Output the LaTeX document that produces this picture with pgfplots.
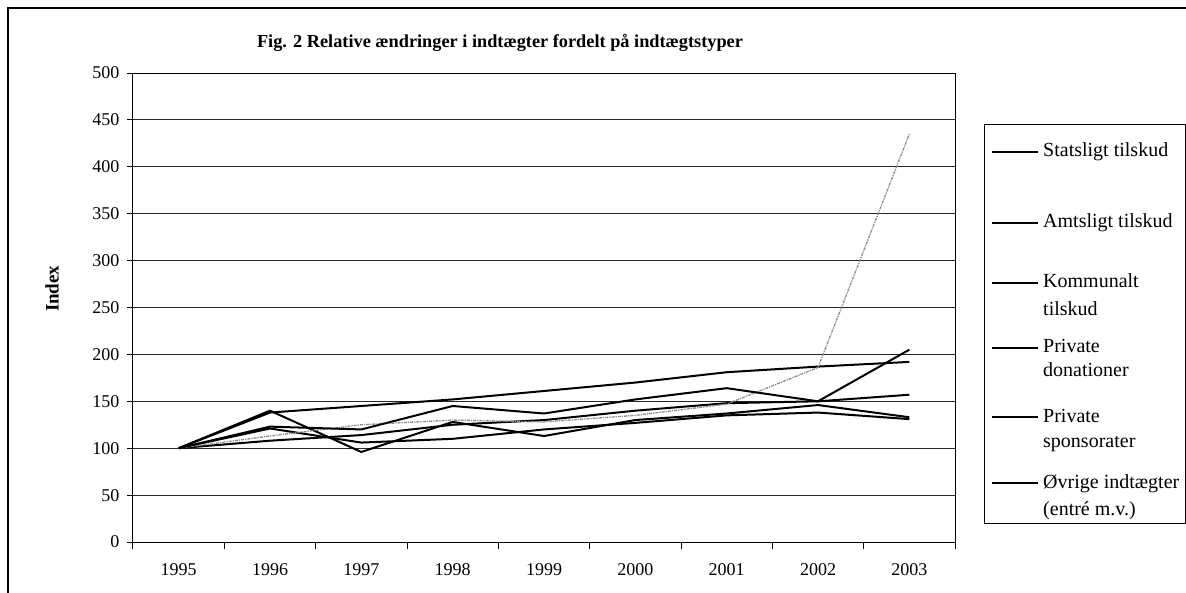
\documentclass[border=0pt]{standalone}
\usepackage{pgfplots}
\pgfplotsset{compat=1.18}
\usepackage{fontspec}
\setmainfont{Liberation Serif}
\begin{document}
\begin{tikzpicture}[x=1pt,y=1pt]
\useasboundingbox (0,0) rectangle (1186,-593);
\draw[line width=2pt] (8,-593) -- (8,-8) -- (1186,-8);
\node[font=\fontsize{18.3}{22}\selectfont\bfseries] at (500,-43) {Fig. 2 Relative ændringer i indtægter fordelt på indtægtstyper};
\begin{axis}[
  at={(133pt,-542pt)}, anchor=south west,
  scale only axis, width=822pt, height=469pt,
  xmin=-0.5, xmax=8.5, ymin=0, ymax=500,
  xtick={0,...,8},
  xticklabels={1995,1996,1997,1998,1999,2000,2001,2002,2003},
  minor xtick={-0.5,0.5,...,8.5},
  ytick={0,50,...,500},
  xtick pos=bottom, ytick pos=left,
  tick align=outside,
  major tick length=6pt, minor tick length=7pt,
  major x tick style={draw=none},
  every tick/.style={black, line width=1pt},
  ymajorgrids, grid style={black!85, line width=0.9pt},
  axis line style={black, line width=1pt},
  /pgf/number format/assume math mode=true,
  ticklabel style={font=\fontsize{18}{20}\selectfont},
  xticklabel style={yshift=-12pt},
  yticklabel style={xshift=-4pt},
  ylabel={Index},
  ylabel style={font=\fontsize{19}{22}\selectfont\bfseries, at={(axis description cs:-0.0985,0.54)}, anchor=center},
]
% Statsligt tilskud
\addplot[black, line width=2pt, line join=round] coordinates {(0,100) (1,138) (2,145) (3,152) (4,161) (5,170) (6,181) (7,187) (8,192)};
% Amtsligt tilskud
\addplot[black, line width=2pt, line join=round] coordinates {(0,100) (1,121) (2,106) (3,110) (4,120) (5,127) (6,135) (7,138) (8,131)};
% Kommunalt tilskud
\addplot[black, line width=2pt, line join=round] coordinates {(0,100) (1,108) (2,114) (3,125) (4,130) (5,140) (6,148) (7,150) (8,157)};
% Private donationer
\addplot[black, line width=2pt, line join=round] coordinates {(0,100) (1,140) (2,96) (3,128) (4,113) (5,130) (6,137) (7,146) (8,133)};
% Private sponsorater
\addplot[black!45, line width=1.3pt, densely dashdotted] coordinates {(0,100) (1,113) (2,125) (3,130) (4,128) (5,135) (6,147) (7,186) (8,435)};
% Ovrige indtaegter
\addplot[black, line width=2pt, line join=round] coordinates {(0,100) (1,123) (2,120) (3,145) (4,137) (5,152) (6,164) (7,150) (8,205)};
\end{axis}
% legend
\draw[line width=1pt] (984,-125) rectangle (1185,-523);
\begin{scope}[every node/.style={font=\fontsize{20}{24}\selectfont, anchor=base west, inner sep=0pt}]
\foreach \y/\a/\b/\yb in {152/Statsligt tilskud//0, 223/Amtsligt tilskud//0, 283/Kommunalt/tilskud/311, 348/Private/donationer/372, 417/Private/sponsorater/442, 483/Øvrige indtægter/(entré m.v.)/510}{
  \draw[line width=2.2pt] (992,-\y) -- (1038,-\y);
  \node at (1043,-\y-5) {\a};
  \node at (1043,-\yb-5) {\b};
}
\end{scope}
\end{tikzpicture}
\end{document}
